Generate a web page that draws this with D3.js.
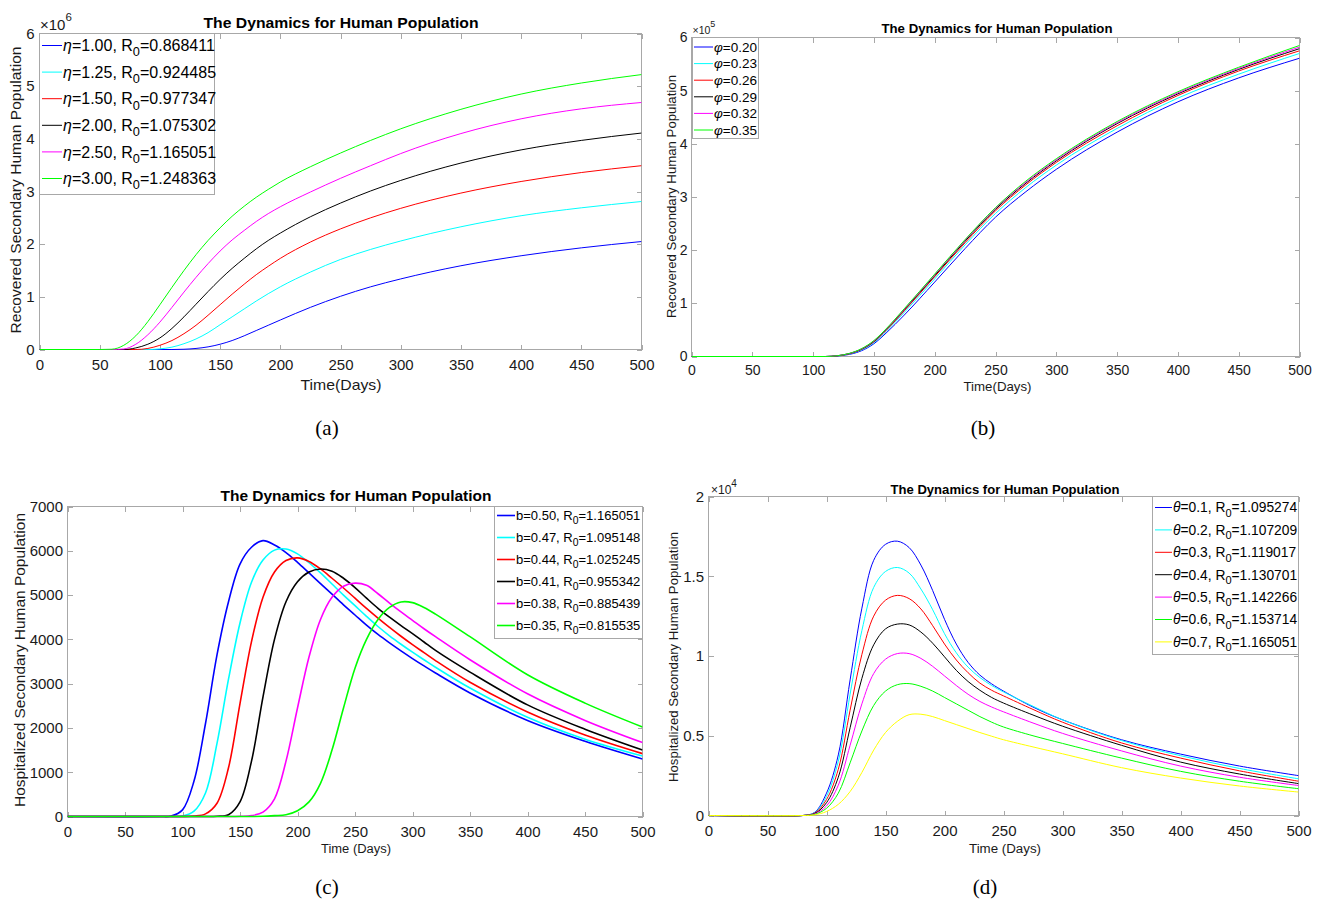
<!DOCTYPE html>
<html>
<head>
<meta charset="utf-8">
<script src="https://cdn.jsdelivr.net/npm/d3@7"></script>
<style>
  html, body { margin: 0; padding: 0; background: #fff; }
  svg { display: block; }
</style>
</head>
<body>
<svg id="chart" width="1319" height="905"></svg>
<script>
// ===================== DATA =====================
const xTickValues = [0, 50, 100, 150, 200, 250, 300, 350, 400, 450, 500];

// ---- (a) Recovered secondary humans (x 10^6) for different eta ----
const daysA = [0, 50, 60, 70, 80, 90, 100, 110, 120, 130, 140, 150, 160, 170, 180, 190, 200, 225, 250, 275, 300, 350, 400, 450, 500];
const recA_eta100 = [0, 0, 0, 0, 0, 0, 0, 0, 0.005, 0.02, 0.05, 0.10, 0.17, 0.26, 0.36, 0.46, 0.56, 0.80, 1.01, 1.19, 1.34, 1.59, 1.78, 1.93, 2.05];
const recA_eta125 = [0, 0, 0, 0, 0, 0, 0.012, 0.045, 0.11, 0.20, 0.32, 0.47, 0.62, 0.77, 0.92, 1.06, 1.19, 1.47, 1.71, 1.90, 2.06, 2.33, 2.54, 2.69, 2.81];
const recA_eta150 = [0, 0, 0, 0, 0, 0.02, 0.08, 0.17, 0.30, 0.46, 0.65, 0.85, 1.05, 1.24, 1.42, 1.58, 1.73, 2.04, 2.29, 2.50, 2.68, 2.97, 3.19, 3.36, 3.49];
const recA_eta200 = [0, 0, 0, 0, 0.03, 0.10, 0.22, 0.40, 0.62, 0.86, 1.10, 1.33, 1.54, 1.73, 1.91, 2.07, 2.21, 2.52, 2.78, 3.01, 3.21, 3.54, 3.79, 3.97, 4.11];
const recA_eta250 = [0, 0, 0, 0.01, 0.10, 0.28, 0.52, 0.80, 1.09, 1.37, 1.63, 1.87, 2.08, 2.26, 2.43, 2.58, 2.71, 2.99, 3.25, 3.49, 3.72, 4.10, 4.38, 4.57, 4.69];
const recA_eta300 = [0, 0, 0.005, 0.08, 0.26, 0.53, 0.85, 1.18, 1.50, 1.80, 2.07, 2.31, 2.53, 2.72, 2.89, 3.04, 3.18, 3.47, 3.73, 3.97, 4.19, 4.56, 4.85, 5.06, 5.22];
const etaA = ["1.00", "1.25", "1.50", "2.00", "2.50", "3.00"];
const r0A = ["0.868411", "0.924485", "0.977347", "1.075302", "1.165051", "1.248363"];
const yTicksA = [0, 1, 2, 3, 4, 5, 6];

// ---- (b) Recovered secondary humans (x 10^5) for different phi ----
const daysB = [0, 100, 110, 120, 130, 140, 150, 160, 175, 200, 225, 250, 275, 300, 350, 400, 450, 500];
const recB_phi20 = [0, 0, 0, 0.010, 0.040, 0.110, 0.240, 0.440, 0.78, 1.40, 2.03, 2.62, 3.10, 3.52, 4.22, 4.79, 5.24, 5.61];
const recB_phi23 = [0, 0, 0, 0.012, 0.048, 0.125, 0.260, 0.470, 0.83, 1.46, 2.10, 2.69, 3.18, 3.60, 4.29, 4.86, 5.31, 5.70];
const recB_phi26 = [0, 0, 0, 0.013, 0.052, 0.135, 0.275, 0.490, 0.86, 1.50, 2.14, 2.74, 3.23, 3.65, 4.34, 4.91, 5.37, 5.75];
const recB_phi29 = [0, 0, 0, 0.014, 0.056, 0.140, 0.285, 0.505, 0.88, 1.52, 2.17, 2.77, 3.26, 3.68, 4.38, 4.94, 5.40, 5.79];
const recB_phi32 = [0, 0, 0, 0.015, 0.058, 0.145, 0.293, 0.513, 0.89, 1.54, 2.19, 2.79, 3.28, 3.70, 4.40, 4.96, 5.42, 5.82];
const recB_phi35 = [0, 0, 0, 0.015, 0.060, 0.150, 0.300, 0.520, 0.90, 1.55, 2.20, 2.80, 3.30, 3.72, 4.42, 4.98, 5.44, 5.85];
const phiB = ["0.20", "0.23", "0.26", "0.29", "0.32", "0.35"];
const yTicksB = [0, 1, 2, 3, 4, 5, 6];

// ---- (c) Hospitalized secondary humans for different b ----
const daysC = [0, 80, 90, 100, 110, 120, 130, 140, 150, 160, 170, 180, 190, 200, 210, 220, 230, 240, 250, 260, 270, 280, 290, 300, 310, 320, 350, 400, 450, 500];
const hosC_b50 = [0, 0, 10, 150, 800, 2100, 3650, 4850, 5700, 6080, 6230, 6130, 5960, 5740, 5500, 5260, 5020, 4780, 4550, 4320, 4110, 3920, 3740, 3566, 3400, 3240, 2790, 2170, 1700, 1300];
const hosC_b47 = [0, 0, 0, 10, 120, 530, 1650, 3100, 4370, 5290, 5790, 6015, 6040, 5930, 5730, 5500, 5250, 5000, 4760, 4520, 4290, 4080, 3890, 3710, 3540, 3370, 2900, 2240, 1745, 1365];
const hosC_b44 = [0, 0, 0, 0, 10, 60, 300, 1100, 2550, 3950, 4950, 5520, 5780, 5840, 5760, 5590, 5380, 5160, 4930, 4700, 4480, 4270, 4070, 3880, 3700, 3520, 3030, 2360, 1840, 1420];
const hosC_b41 = [0, 0, 0, 0, 0, 0, 5, 40, 330, 1250, 2700, 4000, 4850, 5300, 5520, 5590, 5540, 5380, 5170, 4930, 4700, 4500, 4310, 4130, 3940, 3750, 3260, 2520, 1970, 1500];
const hosC_b38 = [0, 0, 0, 0, 0, 0, 0, 0, 5, 20, 100, 400, 1250, 2450, 3600, 4450, 4950, 5200, 5270, 5220, 5030, 4820, 4620, 4430, 4240, 4060, 3540, 2770, 2170, 1670];
const hosC_b35 = [0, 0, 0, 0, 0, 0, 0, 0, 0, 0, 5, 20, 40, 130, 330, 750, 1500, 2450, 3350, 4000, 4450, 4720, 4845, 4830, 4720, 4570, 4060, 3200, 2560, 2020];
const bC = ["0.50", "0.47", "0.44", "0.41", "0.38", "0.35"];
const r0C = ["1.165051", "1.095148", "1.025245", "0.955342", "0.885439", "0.815535"];
const yTicksC = [0, 1000, 2000, 3000, 4000, 5000, 6000, 7000];

// ---- (d) Hospitalized secondary humans (x 10^4) for different theta ----
const daysD = [0, 80, 90, 100, 110, 120, 130, 140, 150, 160, 170, 180, 190, 200, 210, 220, 230, 240, 250, 275, 300, 350, 400, 450, 500];
const hosD_th1 = [0, 0, 0.020, 0.140, 0.38, 0.85, 1.30, 1.60, 1.70, 1.72, 1.68, 1.57, 1.41, 1.23, 1.075, 0.96, 0.88, 0.825, 0.78, 0.68, 0.60, 0.475, 0.385, 0.31, 0.25];
const hosD_th2 = [0, 0, 0.018, 0.120, 0.34, 0.76, 1.16, 1.43, 1.53, 1.555, 1.52, 1.42, 1.29, 1.14, 1.02, 0.93, 0.865, 0.815, 0.775, 0.685, 0.60, 0.47, 0.375, 0.295, 0.23];
const hosD_th3 = [0, 0, 0.015, 0.100, 0.29, 0.66, 1.01, 1.25, 1.35, 1.38, 1.36, 1.295, 1.19, 1.075, 0.975, 0.895, 0.83, 0.785, 0.75, 0.665, 0.585, 0.455, 0.36, 0.28, 0.215];
const hosD_th4 = [0, 0, 0.012, 0.080, 0.24, 0.55, 0.86, 1.07, 1.17, 1.20, 1.195, 1.15, 1.08, 0.995, 0.91, 0.84, 0.785, 0.74, 0.705, 0.63, 0.56, 0.44, 0.335, 0.26, 0.20];
const hosD_th5 = [0, 0, 0.010, 0.060, 0.19, 0.44, 0.70, 0.89, 0.98, 1.015, 1.015, 0.985, 0.935, 0.875, 0.815, 0.76, 0.715, 0.68, 0.65, 0.58, 0.515, 0.405, 0.31, 0.24, 0.188];
const hosD_th6 = [0, 0, 0.007, 0.045, 0.14, 0.33, 0.53, 0.69, 0.78, 0.82, 0.827, 0.81, 0.78, 0.74, 0.70, 0.66, 0.62, 0.585, 0.555, 0.50, 0.452, 0.36, 0.277, 0.215, 0.168];
const hosD_th7 = [0, 0, 0.004, 0.025, 0.07, 0.15, 0.27, 0.41, 0.52, 0.59, 0.632, 0.635, 0.62, 0.595, 0.57, 0.545, 0.52, 0.497, 0.475, 0.43, 0.387, 0.30, 0.235, 0.185, 0.147];
const thetaD = ["0.1", "0.2", "0.3", "0.4", "0.5", "0.6", "0.7"];
const r0D = ["1.095274", "1.107209", "1.119017", "1.130701", "1.142266", "1.153714", "1.165051"];
const yTicksD = [0, 0.5, 1, 1.5, 2];

// ===================== STYLE =====================
const FONT = "'Liberation Sans', Arial, Helvetica, sans-serif";
const SERIF = "'Liberation Serif', 'Times New Roman', serif";
const AXIS_GRAY = "#a8a8a8";
const TEXT_COL = "#1a1a1a";
const TICK = 5;
const C6 = ["#0000ff", "#00ffff", "#ff0000", "#000000", "#ff00ff", "#00ff00"];
const C7 = ["#0000ff", "#00ffff", "#ff0000", "#000000", "#ff00ff", "#00ff00", "#ffff00"];

const svg = d3.select("#chart");
const defs = svg.append("defs");

function drawPanel(p) {
  const x = d3.scaleLinear().domain([0, 500]).range([p.L, p.R]);
  const y = d3.scaleLinear().domain(p.yDomain).range([p.B, p.T]);
  const g = svg.append("g");
  const clipId = "clip-" + p.id;
  defs.append("clipPath").attr("id", clipId).append("rect")
    .attr("x", p.L).attr("y", p.T).attr("width", p.R - p.L).attr("height", p.B - p.T + 1.5);

  const styleAxis = sel => {
    sel.attr("font-family", FONT).attr("font-size", p.tickFont).attr("color", AXIS_GRAY);
    sel.select(".domain").remove();
    sel.selectAll(".tick text").attr("fill", TEXT_COL);
    sel.selectAll(".tick line").attr("shape-rendering", "crispEdges");
  };

  g.append("g").attr("transform", `translate(0,${p.B})`)
    .call(d3.axisBottom(x).tickValues(xTickValues).tickSizeInner(-TICK).tickSizeOuter(0)
      .tickPadding(p.xPad).tickFormat(d3.format("d")))
    .call(styleAxis);
  g.append("g").attr("transform", `translate(0,${p.T})`)
    .call(d3.axisTop(x).tickValues(xTickValues).tickSizeInner(-TICK).tickSizeOuter(0).tickFormat(() => ""))
    .call(styleAxis);
  g.append("g").attr("transform", `translate(${p.L},0)`)
    .call(d3.axisLeft(y).tickValues(p.yTicks).tickSizeInner(-TICK).tickSizeOuter(0)
      .tickPadding(p.yPad).tickFormat(p.yFormat))
    .call(styleAxis);
  g.append("g").attr("transform", `translate(${p.R},0)`)
    .call(d3.axisRight(y).tickValues(p.yTicks).tickSizeInner(-TICK).tickSizeOuter(0).tickFormat(() => ""))
    .call(styleAxis);

  // axes box
  g.append("rect")
    .attr("x", p.L).attr("y", p.T).attr("width", p.R - p.L).attr("height", p.B - p.T)
    .attr("fill", "none").attr("stroke", AXIS_GRAY).attr("stroke-width", 1)
    .attr("shape-rendering", "crispEdges");

  // data lines
  const lineGen = d3.line()
    .x((d, i) => x(p.days[i]))
    .y(d => y(d))
    .curve(p.curve);
  const lg = g.append("g").attr("clip-path", `url(#${clipId})`);
  p.series.forEach((vals, i) => {
    lg.append("path")
      .attr("d", lineGen(vals))
      .attr("fill", "none")
      .attr("stroke", p.colors[i])
      .attr("stroke-width", p.lw)
      .attr("stroke-linejoin", "round");
  });

  // title
  g.append("text")
    .attr("x", p.title.x).attr("y", p.title.y + 0.36 * p.title.size)
    .attr("text-anchor", "middle")
    .attr("font-family", FONT).attr("font-weight", "bold").attr("font-size", p.title.size)
    .attr("textLength", p.title.len).attr("lengthAdjust", "spacingAndGlyphs")
    .attr("fill", "#000")
    .text("The Dynamics for Human Population");

  // x label
  g.append("text")
    .attr("x", p.xlab.x).attr("y", p.xlab.y + 0.36 * p.xlab.size)
    .attr("text-anchor", "middle")
    .attr("font-family", FONT).attr("font-size", p.xlab.size)
    .attr("textLength", p.xlab.len).attr("lengthAdjust", "spacingAndGlyphs")
    .attr("fill", TEXT_COL)
    .text(p.xlab.text);

  // y label
  g.append("text")
    .attr("transform", `translate(${p.ylab.x},${p.ylab.y}) rotate(-90)`)
    .attr("y", 0.36 * p.ylab.size)
    .attr("text-anchor", "middle")
    .attr("font-family", FONT).attr("font-size", p.ylab.size)
    .attr("textLength", p.ylab.len).attr("lengthAdjust", "spacingAndGlyphs")
    .attr("fill", TEXT_COL)
    .text(p.ylab.text);

  // exponent
  if (p.exp) {
    const t = g.append("text")
      .attr("x", p.exp.x).attr("y", p.exp.y)
      .attr("font-family", FONT).attr("font-size", p.exp.size)
      .attr("fill", TEXT_COL);
    t.append("tspan").text("\u00D710");
    t.append("tspan").attr("font-size", p.exp.supSize).attr("dy", -p.exp.supShift).text(p.exp.sup);
  }

  // caption
  svg.append("text")
    .attr("x", p.cap.x).attr("y", p.cap.y + 7)
    .attr("text-anchor", "middle")
    .attr("font-family", SERIF).attr("font-size", 21)
    .attr("fill", "#000")
    .text(p.cap.text);

  // legend
  const L = p.legend;
  const leg = g.append("g");
  leg.append("rect")
    .attr("x", L.x0).attr("y", L.y0).attr("width", L.x1 - L.x0).attr("height", L.y1 - L.y0)
    .attr("fill", "#fff").attr("stroke", AXIS_GRAY).attr("shape-rendering", "crispEdges");
  L.values.forEach((val, i) => {
    const yy = L.first + i * L.dy;
    leg.append("line")
      .attr("x1", L.lx0).attr("x2", L.lx1).attr("y1", yy).attr("y2", yy)
      .attr("stroke", p.colors[i]).attr("stroke-width", p.lw);
    const t = leg.append("text")
      .attr("x", L.tx).attr("y", yy + 0.36 * L.font)
      .attr("font-family", FONT).attr("font-size", L.font).attr("fill", "#000");
    if (L.greek) {
      t.append("tspan").attr("font-style", "italic").text(L.greek);
      t.append("tspan").text("=" + val + (L.r0 ? ", R" : ""));
    } else {
      t.append("tspan").text(L.plain + "=" + val + (L.r0 ? ", R" : ""));
    }
    if (L.r0) {
      const sub = 0.32 * L.font;
      t.append("tspan").attr("font-size", 0.8 * L.font).attr("dy", sub).text("0");
      t.append("tspan").attr("dy", -sub).text("=" + L.r0[i]);
    }
  });
}

// ---- (a) ----
drawPanel({
  id: "a", L: 39.5, R: 641.5, T: 33.5, B: 349.5,
  yDomain: [0, 6], yTicks: yTicksA, yFormat: d3.format("d"),
  tickFont: 15, xPad: 10, yPad: 5,
  days: daysA, curve: d3.curveMonotoneX,
  series: [recA_eta100, recA_eta125, recA_eta150, recA_eta200, recA_eta250, recA_eta300],
  colors: C6, lw: 1,
  title: { x: 341, y: 23, size: 15, len: 275 },
  xlab: { x: 341, y: 385, size: 15, len: 81, text: "Time(Days)" },
  ylab: { x: 15, y: 190, size: 15.5, len: 287, text: "Recovered Secondary Human Population" },
  exp: { x: 40, y: 29.5, size: 15, sup: "6", supSize: 11.5, supShift: 9 },
  cap: { x: 327, y: 428, text: "(a)" },
  legend: { x0: 39.5, y0: 33.5, x1: 214.5, y1: 194.5, lx0: 42, lx1: 62, tx: 63,
    first: 45.5, dy: 26.6, font: 16, greek: "\u03B7", values: etaA, r0: r0A }
});

// ---- (b) ----
drawPanel({
  id: "b", L: 691.5, R: 1299.5, T: 37.5, B: 356.5,
  yDomain: [0, 6], yTicks: yTicksB, yFormat: d3.format("d"),
  tickFont: 14, xPad: 8.5, yPad: 4,
  days: daysB, curve: d3.curveMonotoneX,
  series: [recB_phi20, recB_phi23, recB_phi26, recB_phi29, recB_phi32, recB_phi35],
  colors: C6, lw: 1,
  title: { x: 997, y: 28.5, size: 13.5, len: 231 },
  xlab: { x: 997.5, y: 386.5, size: 13.5, len: 68, text: "Time(Days)" },
  ylab: { x: 671, y: 196.5, size: 13.5, len: 243, text: "Recovered Secondary Human Population" },
  exp: { x: 692.5, y: 33.5, size: 10.5, sup: "5", supSize: 9, supShift: 7 },
  cap: { x: 983, y: 428, text: "(b)" },
  legend: { x0: 692.5, y0: 37.5, x1: 758.5, y1: 138.5, lx0: 694, lx1: 713, tx: 714,
    first: 47, dy: 16.6, font: 13.5, greek: "\u03C6", values: phiB, r0: null }
});

// ---- (c) ----
drawPanel({
  id: "c", L: 67.5, R: 642.5, T: 506.5, B: 816.5,
  yDomain: [0, 7000], yTicks: yTicksC, yFormat: d3.format("d"),
  tickFont: 15, xPad: 9.5, yPad: 4.5,
  days: daysC, curve: d3.curveCatmullRom.alpha(0.5),
  series: [hosC_b50, hosC_b47, hosC_b44, hosC_b41, hosC_b38, hosC_b35],
  colors: C6, lw: 1.6,
  title: { x: 356, y: 496, size: 15, len: 271 },
  xlab: { x: 356, y: 848, size: 12.5, len: 70, text: "Time (Days)" },
  ylab: { x: 19, y: 660, size: 15.5, len: 294, text: "Hospitalized Secondary Human Population" },
  exp: null,
  cap: { x: 327, y: 887, text: "(c)" },
  legend: { x0: 494.5, y0: 506.5, x1: 642.5, y1: 638.5, lx0: 497, lx1: 515, tx: 516,
    first: 515.5, dy: 22, font: 13, plain: "b", values: bC, r0: r0C }
});

// ---- (d) ----
drawPanel({
  id: "d", L: 708.5, R: 1298.5, T: 496.5, B: 815.5,
  yDomain: [0, 2], yTicks: yTicksD, yFormat: d3.format("~g"),
  tickFont: 15, xPad: 9.5, yPad: 4.5,
  days: daysD, curve: d3.curveCatmullRom.alpha(0.5),
  series: [hosD_th1, hosD_th2, hosD_th3, hosD_th4, hosD_th5, hosD_th6, hosD_th7],
  colors: C7, lw: 1,
  title: { x: 1005, y: 489, size: 13.5, len: 229 },
  xlab: { x: 1005, y: 848, size: 12.5, len: 72, text: "Time (Days)" },
  ylab: { x: 673.5, y: 657, size: 13, len: 250, text: "Hospitalized Secondary Human Population" },
  exp: { x: 711, y: 493.5, size: 12, sup: "4", supSize: 10, supShift: 6.5 },
  cap: { x: 985, y: 887, text: "(d)" },
  legend: { x0: 1152.5, y0: 496.5, x1: 1298.5, y1: 654.5, lx0: 1155, lx1: 1172, tx: 1173,
    first: 507.5, dy: 22.4, font: 13.8, greek: "\u03B8", values: thetaD, r0: r0D }
});
</script>
</body>
</html>
